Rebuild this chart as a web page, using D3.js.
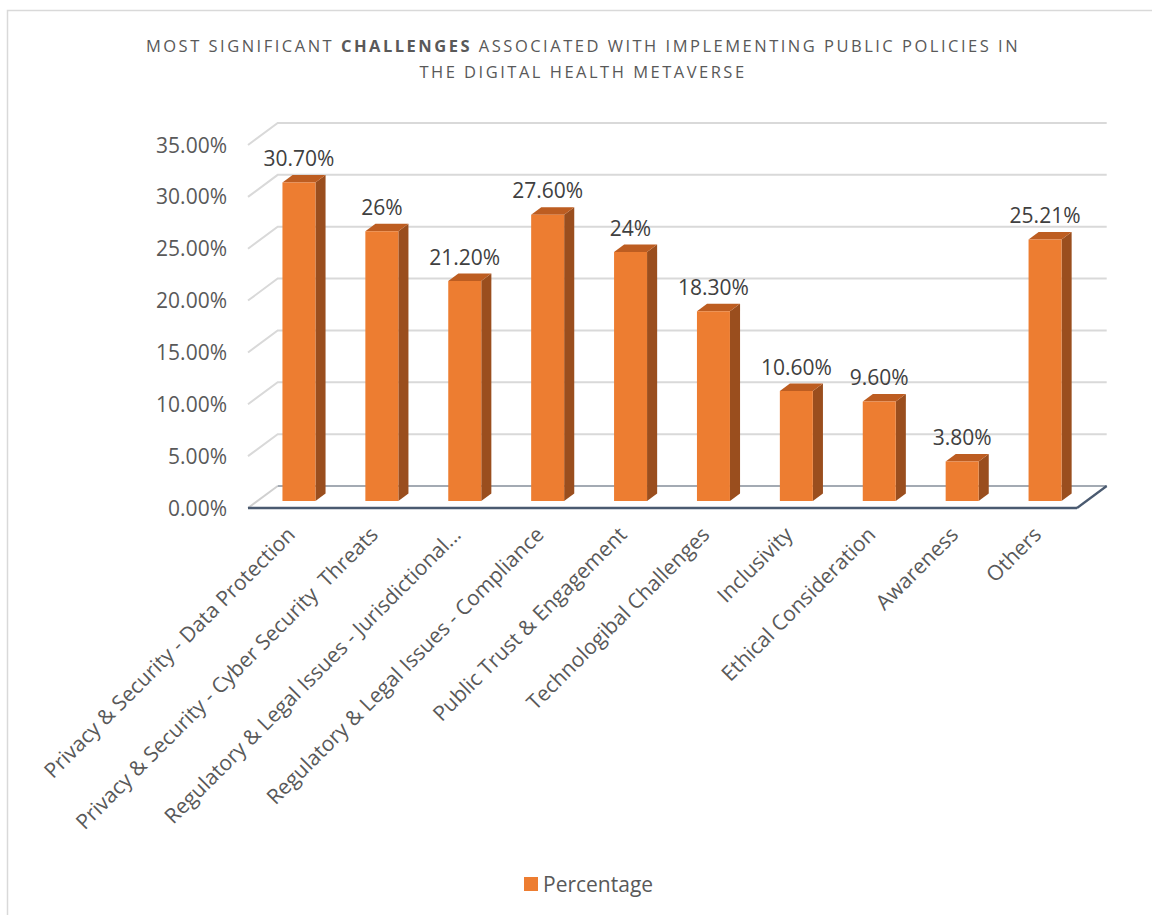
<!DOCTYPE html>
<html>
<head>
<meta charset="utf-8">
<script src="https://cdn.jsdelivr.net/npm/d3@7"></script>
<style>
  html, body { margin: 0; padding: 0; background: #ffffff; }
  svg { display: block; }
  text { font-family: "Open Sans", "Noto Sans", sans-serif; }
</style>
</head>
<body>
<svg id="chart" width="1152" height="915"></svg>
<script>
// Survey results: share of respondents naming each challenge
const categories = [
  "Privacy & Security - Data Protection",
  "Privacy & Security - Cyber Security  Threats",
  "Regulatory & Legal Issues - Jurisdictional...",
  "Regulatory & Legal Issues - Compliance",
  "Public Trust & Engagement",
  "Technologibal Challenges",
  "Inclusivity",
  "Ethical Consideration",
  "Awareness",
  "Others"
];
const values = [30.7, 26, 21.2, 27.6, 24, 18.3, 10.6, 9.6, 3.8, 25.21];
const valueLabels = ["30.70%", "26%", "21.20%", "27.60%", "24%", "18.30%", "10.60%", "9.60%", "3.80%", "25.21%"];
const yTicks = [0, 5, 10, 15, 20, 25, 30, 35];
const seriesName = "Percentage";

const svg = d3.select("#chart");
const fontSize = 21;

// Chart frame
svg.append("path")
  .attr("d", "M7.5,915 V10.5 H1152")
  .attr("fill", "none")
  .attr("stroke", "#D9D9D9")
  .attr("stroke-width", 1.5);

// Title
const title = svg.append("g").attr("fill", "#595959").attr("font-size", 16.5).attr("text-anchor", "middle");
const t1 = title.append("text").attr("x", 583).attr("y", 52).attr("letter-spacing", 2.5);
t1.append("tspan").text("MOST SIGNIFICANT ");
t1.append("tspan").attr("font-weight", "bold").text("CHALLENGES");
t1.append("tspan").text(" ASSOCIATED WITH IMPLEMENTING PUBLIC POLICIES IN");
title.append("text").attr("x", 583).attr("y", 78).attr("letter-spacing", 2.5)
  .text("THE DIGITAL HEALTH METAVERSE");

// 3D plot geometry: floor front-left corner, floor width, and depth offset
const floorX = 248, floorY = 508, floorW = 829;
const depthDx = 29.7, depthDy = 22;
const barFrontZ = 0.32, barBackZ = 0.66;

const x = d3.scaleBand().domain(categories).range([0, floorW])
  .paddingInner(0.602).paddingOuter(0.301);
const y = d3.scaleLinear().domain([0, 35]).range([0, 363]);

// project (floor x, depth z in [0,1], value) to screen
function P(px, z, v) {
  return [floorX + px + z * depthDx, floorY - z * depthDy - y(v)];
}
const line = d3.line();

// Gridlines on back wall and left wall
const grid = svg.append("g").attr("fill", "none").attr("stroke", "#D9D9D9").attr("stroke-width", 2);
yTicks.filter(v => v > 0).forEach(v => {
  grid.append("path").attr("d", line([P(0, 0, v), P(0, 1, v), P(floorW, 1, v)]));
});

// Floor
const floorG = svg.append("g").attr("fill", "none");
floorG.append("path").attr("d", line([P(0, 0, 0), P(0, 1, 0)]))
  .attr("stroke", "#D0D0D0").attr("stroke-width", 2);
floorG.append("path").attr("d", line([P(0, 1, 0), P(floorW, 1, 0)]))
  .attr("stroke", "#A3AAB3").attr("stroke-width", 2);
floorG.append("path").attr("d", line([P(floorW, 1, 0), P(floorW, 0, 0)]))
  .attr("stroke", "#4A5A70").attr("stroke-width", 2.2);
floorG.append("path").attr("d", line([P(0, 0, 0), P(floorW, 0, 0)]))
  .attr("stroke", "#4A5A70").attr("stroke-width", 2.6);

// Y axis labels
svg.append("g").attr("fill", "#595959").attr("font-size", fontSize).attr("text-anchor", "end")
  .selectAll("text").data(yTicks).join("text")
  .attr("x", 227)
  .attr("y", d => P(0, 0, d)[1] + 7.5)
  .text(d => d3.format(".2f")(d) + "%");

// Bars (front, top and right side faces)
const data = categories.map((c, i) => ({ c, v: values[i], label: valueLabels[i] }));
const bars = svg.append("g").selectAll("g").data(data).join("g");
bars.each(function (d) {
  const g = d3.select(this);
  const xl = x(d.c), xr = x(d.c) + x.bandwidth();
  g.append("path")
    .attr("d", line([P(xr, barFrontZ, 0), P(xr, barBackZ, 0), P(xr, barBackZ, d.v), P(xr, barFrontZ, d.v)]) + "Z")
    .attr("fill", "#9A4E1E");
  g.append("path")
    .attr("d", line([P(xl, barFrontZ, d.v), P(xr, barFrontZ, d.v), P(xr, barBackZ, d.v), P(xl, barBackZ, d.v)]) + "Z")
    .attr("fill", "#BD5D21");
  g.append("path")
    .attr("d", line([P(xl, barFrontZ, 0), P(xr, barFrontZ, 0), P(xr, barFrontZ, d.v), P(xl, barFrontZ, d.v)]) + "Z")
    .attr("fill", "#ED7D31");
});

// Value labels
svg.append("g").attr("fill", "#404040").attr("font-size", fontSize).attr("text-anchor", "middle")
  .selectAll("text").data(data).join("text")
  .attr("x", d => P(x(d.c) + x.bandwidth() / 2, barFrontZ, d.v)[0])
  .attr("y", d => P(0, barBackZ, d.v)[1] - 9)
  .text(d => d.label);

// Category labels, rotated
svg.append("g").attr("fill", "#595959").attr("font-size", fontSize).attr("text-anchor", "end")
  .selectAll("text").data(categories).join("text")
  .attr("transform", d => {
    const cx = floorX + x(d) + x.bandwidth() / 2 + 7;
    return `translate(${cx},536) rotate(-45)`;
  })
  .attr("xml:space", "preserve")
  .text(d => d);

// Legend
const legend = svg.append("g");
legend.append("rect").attr("x", 524).attr("y", 877).attr("width", 14).attr("height", 14).attr("fill", "#ED7D31");
legend.append("text").attr("x", 543).attr("y", 892).attr("fill", "#595959").attr("font-size", fontSize)
  .text(seriesName);
</script>
</body>
</html>
